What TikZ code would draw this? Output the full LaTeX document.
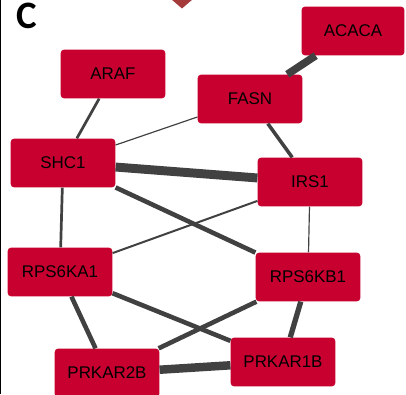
\documentclass[tikz,border=0pt]{standalone}
\usepackage{fontspec}
\setmainfont{Liberation Sans}
\newfontfamily\panelfont{Carlito}
\usetikzlibrary{shapes}

\definecolor{genered}{HTML}{C8002F}
\definecolor{linkgray}{HTML}{414141}
\definecolor{markred}{HTML}{A53A3A}

\begin{document}
\begin{tikzpicture}[x=0.85pt,y=-0.85pt]
		\tikzstyle {gene} = [rectangle, rounded corners=3pt, fill=genered, text=black,
		                     minimum width=89pt, minimum height=41.5pt, font=\fontsize{14.4}{16}\selectfont]
		\tikzstyle {link} = [draw=linkgray]
		\tikzstyle {thin link} = [link, line width=1pt]
		\tikzstyle {mid link} = [link, line width=2.3pt]
		\tikzstyle {strong link} = [link, line width=3.9pt]
		\tikzstyle {heavy link} = [link, line width=6.5pt]

		\clip (0,0) rectangle (406,394);
		\fill[white] (0,0) rectangle (406,394);
		\draw[black, line width=1.3pt] (0.7,0) -- (0.7,394);
		\fill[markred] (171,-1) -- (182,8.5) -- (193,-1) -- cycle;
		\node[anchor=north west, inner sep=0pt, font=\panelfont\bfseries\fontsize{33}{33}\selectfont] (panel) at (16,3) {C};

		% genes
		\node[gene, minimum width=87.5pt] (acaca) at (353,31) {ACACA};
		\node[gene] (araf) at (113,74) {ARAF};
		\node[gene] (fasn) at (250,99) {FASN};
		\node[gene] (shc1) at (63,163) {SHC1};
		\node[gene] (irs1) at (310,182) {IRS1};
		\node[gene] (rps6ka1) at (60,272) {RPS6KA1};
		\node[gene] (rps6kb1) at (308,277) {RPS6KB1};
		\node[gene] (prkar2b) at (107,373) {PRKAR2B};
		\node[gene] (prkar1b) at (283,362) {PRKAR1B};

		% interactions
		\draw[heavy link] (acaca) -- (fasn);
		\draw[mid link] (araf) -- (shc1);
		\draw[thin link] (fasn) -- (shc1);
		\draw[link, line width=3pt] (fasn) -- (irs1);
		\draw[link, line width=7.6pt] (shc1) -- (irs1);
		\draw[mid link] (shc1) -- (rps6ka1);
		\draw[strong link] (shc1) -- (rps6kb1);
		\draw[link, line width=1.7pt] (irs1) -- (rps6ka1);
		\draw[thin link] (irs1) -- (rps6kb1);
		\draw[strong link] (rps6ka1) -- (prkar2b);
		\draw[strong link] (rps6ka1) -- (prkar1b);
		\draw[strong link] (rps6kb1) -- (prkar2b);
		\draw[link, line width=4.5pt] (rps6kb1) -- (prkar1b);
		\draw[link, line width=7.2pt] (prkar2b) -- (prkar1b);
\end{tikzpicture}
\end{document}
